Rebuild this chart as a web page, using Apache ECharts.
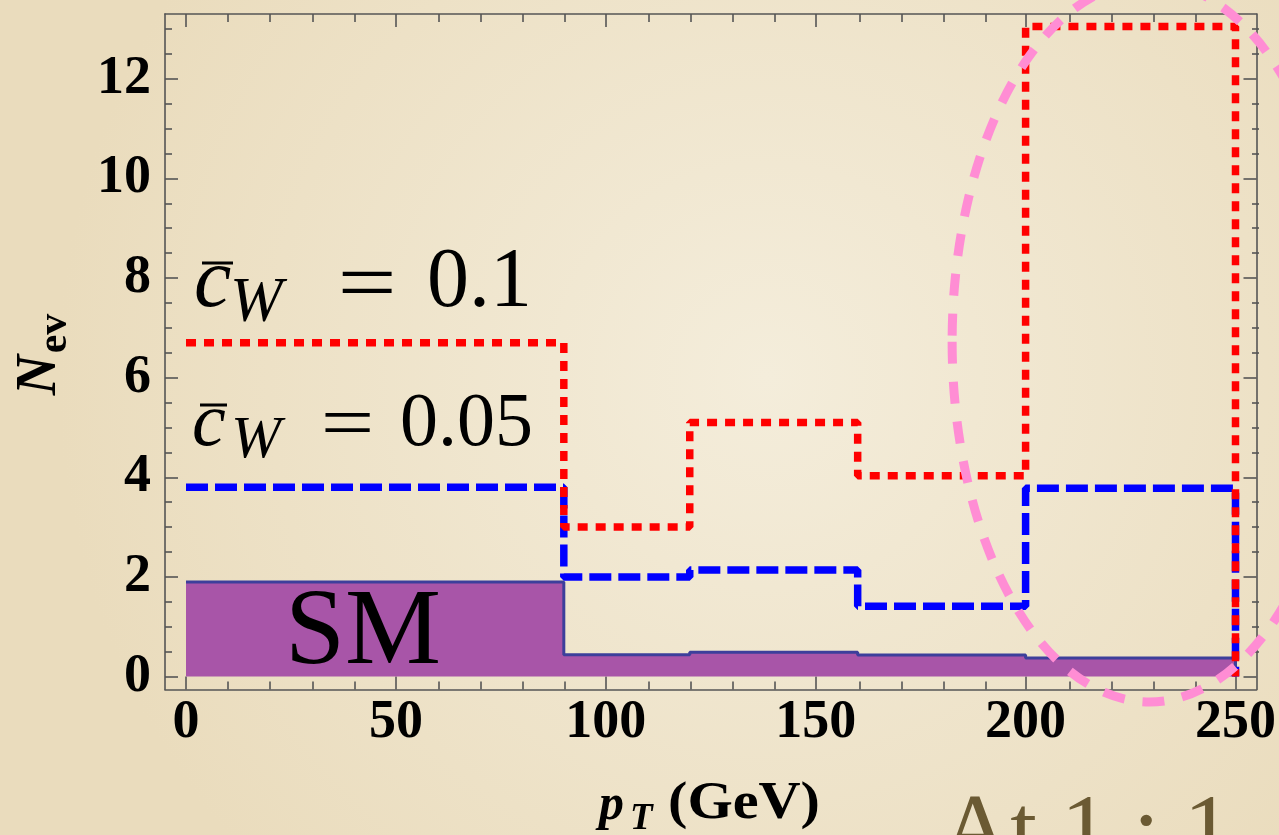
<!DOCTYPE html>
<html><head><meta charset="utf-8">
<script src="https://cdn.jsdelivr.net/npm/echarts@6/dist/echarts.min.js"></script>
<style>html,body{margin:0;padding:0;width:1279px;height:835px;overflow:hidden;background:#efe5cb}#c{width:1279px;height:835px}</style>
</head><body><div id="c"></div>
<script>
// ---- data ----
const binEdges = [0, 90, 120, 160, 200, 250];          // p_T bin edges (GeV)
const cw01  = [6.7, 3.0, 5.1, 4.03, 13.05];            // cW = 0.1
const cw005 = [3.8, 2.0, 2.14, 1.41, 3.78];            // cW = 0.05
const smVals = [1.9, 0.44, 0.49, 0.435, 0.37];         // SM
const xMajorTicks = [0, 50, 100, 150, 200, 250];
const xMinorTicks = [10,20,30,40,60,70,80,90,110,120,130,140,160,170,180,190,210,220,230,240];
const yMajorTicks = [0, 2, 4, 6, 8, 10, 12];
const yMinorTicks = [0.5,1,1.5,2.5,3,3.5,4.5,5,5.5,6.5,7,7.5,8.5,9,9.5,10.5,11,11.5,12.5,13];
const ellipseAnno = [[229.5, 6.72, 47, 7.23]];          // centre x, centre y, radius x, radius y (data units)

const X_MIN = -5, X_MAX = 255, Y_MIN = -0.26, Y_MAX = 13.3;
const FONT = '"Liberation Serif", "Times New Roman", serif';
const AX = '#555';

function stepData(vals) {
  return binEdges.map((e, i) => [e, i < vals.length ? vals[i] : 0]);
}

function makeAxis(kind, grid, pos, ticks, len, withLabels, showLine) {
  const a = {
    type: 'value', gridIndex: grid, position: pos,
    min: kind === 'x' ? X_MIN : Y_MIN, max: kind === 'x' ? X_MAX : Y_MAX,
    axisLine: { show: showLine, onZero: false, lineStyle: { color: AX, width: 1.6 } },
    axisTick: { show: true, inside: true, length: len, customValues: ticks, lineStyle: { color: AX, width: 1.6 } },
    splitLine: { show: false },
    axisLabel: { show: false }
  };
  if (withLabels) {
    a.axisLabel = {
      show: true, customValues: ticks, color: '#000',
      fontFamily: FONT, fontWeight: 'bold', fontSize: 54
    };
    if (kind === 'x') { a.axisLabel.margin = 7; }
    else { a.axisLabel.margin = 14; a.axisLabel.padding = [0, 0, 14, 0]; }
  }
  return a;
}

const gridRect = { left: 165, top: 14, right: 20, bottom: 145.5 };

function txt(x, y, text, font, extra) {
  return Object.assign({ type: 'text', x: x, y: y, z: 100,
    style: Object.assign({ text: text, font: font, fill: '#000', verticalAlign: 'middle' }, (extra && extra.style) || {}) },
    extra && extra.el || {});
}

const chart = echarts.init(document.getElementById('c'), null, { renderer: 'canvas' });
const option = {
  animation: false,
  backgroundColor: {
    type: 'radial', x: 0.6, y: 0.45, r: 0.85,
    colorStops: [{ offset: 0, color: '#f4eddb' }, { offset: 1, color: '#eadcbd' }]
  },
  grid: [Object.assign({}, gridRect), Object.assign({}, gridRect)],
  xAxis: [
    makeAxis('x', 0, 'bottom', xMajorTicks, 13, true, true),
    makeAxis('x', 0, 'top', xMajorTicks, 13, false, true),
    makeAxis('x', 1, 'bottom', xMinorTicks, 8, false, false),
    makeAxis('x', 1, 'top', xMinorTicks, 8, false, false)
  ],
  yAxis: [
    makeAxis('y', 0, 'left', yMajorTicks, 13, true, true),
    makeAxis('y', 0, 'right', yMajorTicks, 13, false, true),
    makeAxis('y', 1, 'left', yMinorTicks, 7, false, false),
    makeAxis('y', 1, 'right', yMinorTicks, 7, false, false)
  ],
  series: [
    {
      name: 'SM', type: 'line', step: 'end', data: stepData(smVals),
      xAxisIndex: 0, yAxisIndex: 0, symbol: 'none', z: 2,
      lineStyle: { color: '#3d3f9b', width: 3 },
      areaStyle: { color: '#a855a8', opacity: 1, origin: 0 }
    },
    {
      name: 'cW=0.05', type: 'line', step: 'end', data: stepData(cw005),
      xAxisIndex: 0, yAxisIndex: 0, symbol: 'none', z: 3,
      lineStyle: { color: '#0000ff', width: 7.5, type: [22, 7], cap: 'butt' }
    },
    {
      name: 'cW=0.1', type: 'line', step: 'end', data: stepData(cw01),
      xAxisIndex: 0, yAxisIndex: 0, symbol: 'none', z: 4,
      lineStyle: { color: '#ff0000', width: 7.5, type: [10, 8], cap: 'butt' }
    },
    {
      name: 'ellipse', type: 'custom', xAxisIndex: 0, yAxisIndex: 0,
      data: ellipseAnno, clip: false, silent: true, z: 10,
      encode: { x: 0, y: 1 },
      renderItem: function (params, api) {
        const c = api.coord([api.value(0), api.value(1)]);
        const s = api.size([api.value(2), api.value(3)]);
        const rx = s[0], ry = s[1];
        const d = 'M ' + (c[0] - rx) + ' ' + c[1] +
          ' A ' + rx + ' ' + ry + ' 0 1 0 ' + (c[0] + rx) + ' ' + c[1] +
          ' A ' + rx + ' ' + ry + ' 0 1 0 ' + (c[0] - rx) + ' ' + c[1] + ' Z';
        return {
          type: 'path', shape: { pathData: d },
          style: { fill: 'none', stroke: '#ff8dd4', lineWidth: 9, lineDash: [22, 18] }
        };
      }
    }
  ],
  graphic: [
    // cW = 0.1
    txt(194, 284, 'c', 'italic 84px ' + FONT),
    { type: 'rect', z: 100, shape: { x: 202, y: 261.5, width: 31, height: 3 }, style: { fill: '#000' } },
    txt(230, 304, 'W', 'italic 63px ' + FONT),
    txt(367, 289, '=', '84px ' + FONT, { el: { scaleX: 1.25 }, style: { align: 'center' } }),
    txt(427, 284, '0.1', '84px ' + FONT),
    // cW = 0.05
    txt(192, 425, 'c', 'italic 76px ' + FONT),
    { type: 'rect', z: 100, shape: { x: 200, y: 403.5, width: 27, height: 3 }, style: { fill: '#000' } },
    txt(231, 441.5, 'W', 'italic 60px ' + FONT),
    txt(347.5, 428, '=', '76px ' + FONT, { el: { scaleX: 1.25 }, style: { align: 'center' } }),
    txt(400, 425, '0.05', '76px ' + FONT),
    // SM
    txt(285, 635, 'SM', '108px ' + FONT),
    // y title N_ev
    txt(41, 375, 'N', 'italic bold 56px ' + FONT, { el: { rotation: Math.PI / 2 }, style: { align: 'center' } }),
    txt(55, 333.5, 'ev', 'bold 42px ' + FONT, { el: { rotation: Math.PI / 2 }, style: { align: 'center' } }),
    // x title p_T (GeV)
    txt(599, 806, 'p', 'italic bold 50px ' + FONT),
    txt(630, 819, 'T', 'italic bold 37px ' + FONT),
    txt(668, 805, '(GeV)', 'bold 52px ' + FONT, { el: { scaleX: 1.12 } }),
    // cut-off slide text
    txt(941, 835, 'At 1 : 1', '96px ' + FONT, { style: { fill: '#6b5a33' } })
  ]
};
chart.setOption(option);
</script>
</body></html>
